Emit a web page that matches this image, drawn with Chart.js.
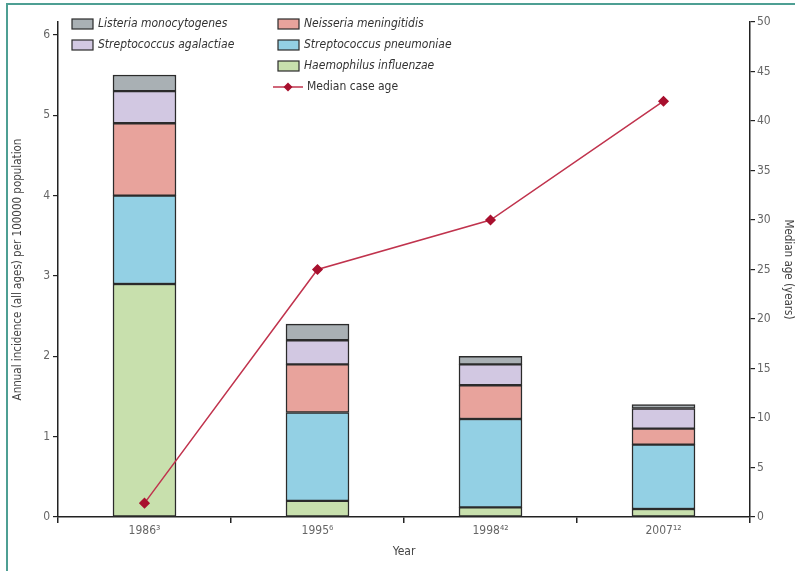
<!DOCTYPE html>
<html>
<head>
<meta charset="utf-8">
<script src="https://cdn.jsdelivr.net/npm/chart.js@4.4.0/dist/chart.umd.min.js"></script>
<style>
  html, body { margin: 0; padding: 0; background: #fff; }
  #wrap { position: relative; width: 795px; height: 571px; }
  #frame { position: absolute; left: 6px; top: 3px; right: 0; bottom: 0;
           border-top: 2px solid #4e9f93; border-left: 2px solid #4e9f93; pointer-events: none; }
</style>
</head>
<body>
<div id="wrap">
  <canvas id="chart" width="795" height="571"></canvas>
  <div id="frame"></div>
</div>
<script>
// incidence per 100000
const years = ['1986\u00b3', '1995\u2076', '1998\u2074\u00b2', '2007\u00b9\u00b2'];
const haemophilus = [2.9, 0.2, 0.12, 0.1];
const pneumoniae = [1.1, 1.1, 1.1, 0.8];
const neisseria = [0.9, 0.6, 0.42, 0.2];
const agalactiae = [0.4, 0.3, 0.26, 0.25];
const listeria = [0.2, 0.2, 0.1, 0.05];
const medianAge = [1.4, 25, 30, 42];

const FONT = "'Liberation Sans Narrow', 'DejaVu Sans Condensed', 'Liberation Sans', sans-serif";
const edge = '#2b2b2b';

function barSet(label, data, color) {
    return {
        type: 'bar',
        label: label,
        data: data,
        backgroundColor: color,
        borderColor: edge,
        borderWidth: 1.5,
        borderSkipped: false,
        barThickness: 63,
        yAxisID: 'y',
        order: 2
    };
}

// legend drawn inside the plot, two columns like the original
const legendItems = [
    { text: 'Listeria monocytogenes', color: '#a9b0b4', x: 72, y: 24 },
    { text: 'Streptococcus agalactiae', color: '#d2c8e2', x: 72, y: 45 },
    { text: 'Neisseria meningitidis', color: '#e8a39c', x: 278, y: 24 },
    { text: 'Streptococcus pneumoniae', color: '#93d0e4', x: 278, y: 45 },
    { text: 'Haemophilus influenzae', color: '#c8e0ad', x: 278, y: 66 },
    { text: 'Median case age', line: true, x: 273, y: 87 }
];

const legendPlugin = {
    id: 'insideLegend',
    afterDraw(chart) {
        const c = chart.ctx;
        c.save();
        c.textBaseline = 'middle';
        legendItems.forEach(it => {
            if (it.line) {
                c.strokeStyle = '#c0334d';
                c.lineWidth = 1.5;
                c.beginPath();
                c.moveTo(it.x, it.y);
                c.lineTo(it.x + 30, it.y);
                c.stroke();
                c.fillStyle = '#a8102e';
                c.beginPath();
                c.moveTo(it.x + 15, it.y - 4.5);
                c.lineTo(it.x + 19.5, it.y);
                c.lineTo(it.x + 15, it.y + 4.5);
                c.lineTo(it.x + 10.5, it.y);
                c.closePath();
                c.fill();
                c.font = '12px ' + FONT;
                c.fillStyle = '#333';
                c.fillText(it.text, it.x + 34, it.y);
            } else {
                c.fillStyle = it.color;
                c.fillRect(it.x, it.y - 5, 21, 10);
                c.strokeStyle = edge;
                c.lineWidth = 1.2;
                c.strokeRect(it.x, it.y - 5, 21, 10);
                c.font = 'italic 12px ' + FONT;
                c.fillStyle = '#333';
                c.fillText(it.text, it.x + 26, it.y);
            }
        });
        c.restore();
    }
};

new Chart(document.getElementById('chart'), {
    data: {
        labels: years,
        datasets: [
            barSet('Haemophilus influenzae', haemophilus, '#c8e0ad'),
            barSet('Streptococcus pneumoniae', pneumoniae, '#93d0e4'),
            barSet('Neisseria meningitidis', neisseria, '#e8a39c'),
            barSet('Streptococcus agalactiae', agalactiae, '#d2c8e2'),
            barSet('Listeria monocytogenes', listeria, '#a9b0b4'),
            {
                type: 'line',
                label: 'Median case age',
                data: medianAge,
                yAxisID: 'y1',
                borderColor: '#c0334d',
                borderWidth: 1.5,
                pointStyle: 'rectRot',
                pointRadius: 4.5,
                pointBackgroundColor: '#a8102e',
                pointBorderColor: '#a8102e',
                tension: 0,
                order: 1
            }
        ]
    },
    options: {
        responsive: false,
        animation: false,
        layout: { padding: { top: 22, left: 11, right: 0, bottom: 12 } },
        plugins: {
            legend: { display: false },
            tooltip: { enabled: false }
        },
        scales: {
            x: {
                stacked: true,
                offset: true,
                border: { color: '#222', width: 1.5 },
                grid: { offset: true, drawOnChartArea: false, drawTicks: true, tickLength: 6, color: '#222', lineWidth: 1.5 },
                ticks: { color: '#666', font: { family: FONT, size: 12 }, padding: 1, maxRotation: 0 },
                title: { display: true, text: 'Year', color: '#444', font: { family: FONT, size: 12 }, padding: { top: 0, bottom: 0 } },
                afterFit(s) { s.height = 42; }
            },
            y: {
                stacked: true,
                position: 'left',
                min: 0,
                max: 6.16,
                border: { color: '#222', width: 1.5 },
                grid: { drawOnChartArea: false, drawTicks: true, tickLength: 5, color: '#222', lineWidth: 1.2 },
                ticks: { stepSize: 1, includeBounds: false, color: '#666', font: { family: FONT, size: 12 }, padding: 3 },
                title: { display: true, text: 'Annual incidence (all ages) per 100000 population', color: '#444', font: { family: FONT, size: 11.5 }, padding: 0 },
                afterFit(s) { s.width = 47; }
            },
            y1: {
                position: 'right',
                min: 0,
                max: 50,
                border: { color: '#222', width: 1.5 },
                grid: { drawOnChartArea: false, drawTicks: true, tickLength: 5, color: '#222', lineWidth: 1.2 },
                ticks: { stepSize: 5, color: '#666', font: { family: FONT, size: 12 }, padding: 2 },
                title: { display: true, text: 'Median age (years)', color: '#444', font: { family: FONT, size: 11.5 }, padding: 0 },
                afterFit(s) { s.width = 45; }
            }
        }
    },
    plugins: [legendPlugin]
});
</script>
</body>
</html>
